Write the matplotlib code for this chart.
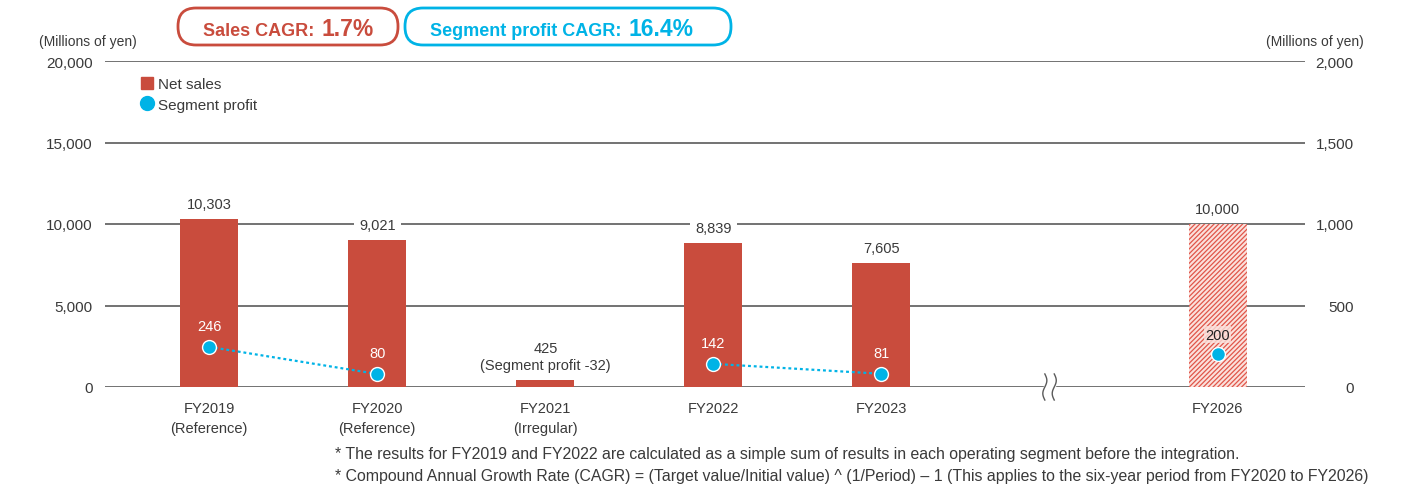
import matplotlib.pyplot as plt
import numpy as np
from matplotlib.patches import FancyBboxPatch
from matplotlib.lines import Line2D

plt.rcParams['font.family'] = ['Liberation Sans', 'DejaVu Sans']
plt.rcParams['hatch.linewidth'] = 0.9

# data
years = ['FY2019\n(Reference)', 'FY2020\n(Reference)', 'FY2021\n(Irregular)',
         'FY2022', 'FY2023', 'FY2026']
xpos = [0, 1, 2, 3, 4, 6]
net_sales = [10303, 9021, 425, 8839, 7605, 10000]
sales_labels = ['10,303', '9,021', '425\n(Segment profit -32)', '8,839', '7,605', '10,000']
profit_x = [0, 1, 3, 4, 6]
profit = [246, 80, 142, 81, 200]
sales_cagr = '1.7%'
profit_cagr = '16.4%'

RED = '#c94c3d'
CYAN = '#00b3e6'
GRID = '#5a5a5a'
TXT = '#3a3a3a'
W, H = 1402, 489

fig = plt.figure(figsize=(W/100, H/100), dpi=100)
ax = fig.add_axes([105/W, 101/H, 1200/W, 326/H])
ax2 = ax.twinx()

ax.set_xlim(-0.62, 6.52)
ax.set_ylim(0, 20000)
ax2.set_ylim(0, 2000)

for y in range(0, 20001, 5000):
    ax.axhline(y, color=GRID, lw=1.2, zorder=0)

for s in list(ax.spines.values()) + list(ax2.spines.values()):
    s.set_visible(False)

# bars
for i, (x, v) in enumerate(zip(xpos, net_sales)):
    if i == len(xpos) - 1:
        ax.bar(x, v, width=0.345, color='#fbe1dc', edgecolor='#e0564a',
               hatch='///////', lw=0, zorder=2)
    else:
        ax.bar(x, v, width=0.345, color=RED, lw=0, zorder=2)
    ax.annotate(sales_labels[i], (x, v), xytext=(0, 6), textcoords='offset points',
                ha='center', va='bottom', fontsize=10.5, color=TXT, zorder=3,
                linespacing=1.25,
                bbox=dict(boxstyle='square,pad=0.35', fc='white', ec='none'))

# segment profit on the right axis
ax2.plot(profit_x[:2], profit[:2], ls=(0, (1.3, 1.3)), color=CYAN, lw=1.6, zorder=3)
ax2.plot(profit_x[2:4], profit[2:4], ls=(0, (1.3, 1.3)), color=CYAN, lw=1.6, zorder=3)
ax2.plot(profit_x, profit, ls='none', marker='o', ms=10, mfc=CYAN, mec='white',
         mew=1.0, zorder=4)
for x, v in zip(profit_x, profit):
    if x == 6:
        ax2.annotate(str(v), (x, v), xytext=(0, 14), textcoords='offset points',
                     ha='center', va='center', fontsize=10.5, color='#222222',
                     bbox=dict(boxstyle='square,pad=0.1', fc='#fbe1dc', ec='none', alpha=0.8))
    else:
        ax2.annotate(str(v), (x, v), xytext=(0, 15), textcoords='offset points',
                     ha='center', va='center', fontsize=10.5, color='white')

# axes ticks
ax.set_xticks(xpos)
ax.set_xticklabels(years, fontsize=10.5, color=TXT, linespacing=1.55)
ax.tick_params(axis='x', length=0, pad=10)
ax.set_yticks(range(0, 20001, 5000))
ax.set_yticklabels([f'{v:,}' for v in range(0, 20001, 5000)], fontsize=11, color=TXT)
ax.tick_params(axis='y', length=0, pad=9)
ax2.set_yticks(range(0, 2001, 500))
ax2.set_yticklabels([f'{v:,}' for v in range(0, 2001, 500)], fontsize=11, color=TXT,
                    ha='right')
ax2.tick_params(axis='y', length=0, pad=35)

# axis break mark
t = np.linspace(-1, 1, 40)
ax.fill_betweenx([-300, 300], 5 - 0.03, 5 + 0.03, color='white', zorder=4, clip_on=False)
for dx in (-0.028, 0.028):
    xs = 5 + dx + 0.012 * np.sin(t * np.pi)
    ys = t * 800
    ax.plot(xs, ys, color=GRID, lw=1.0, clip_on=False, zorder=5)

fig.text(88/W, 1 - 42/H, '(Millions of yen)', fontsize=10, color=TXT,
         ha='center', va='center')
fig.text(1315/W, 1 - 42/H, '(Millions of yen)', fontsize=10, color=TXT,
         ha='center', va='center')

# legend
handles = [Line2D([], [], ls='none', marker='s', ms=8.5, mfc=RED, mec=RED),
           Line2D([], [], ls='none', marker='o', ms=10, mfc=CYAN, mec=CYAN)]
leg = ax2.legend(handles, ['Net sales', 'Segment profit'], loc='upper left',
                 bbox_to_anchor=(0.026, 0.97), frameon=False, fontsize=11,
                 handlelength=0.6, handletextpad=0.45, labelspacing=0.45,
                 borderaxespad=0)
for txt in leg.get_texts():
    txt.set_color(TXT)

# CAGR boxes
def cagr_box(x0, w, color, label, value):
    box = FancyBboxPatch((x0/100, 4.43), w/100, 0.37,
                         boxstyle='round,pad=0,rounding_size=0.18',
                         transform=fig.dpi_scale_trans, fc='white', ec=color, lw=2)
    fig.patches.append(box)
    t1 = fig.text((x0 + 25)/W, 1 - 36/H, label, fontsize=13, weight='bold',
                  color=color, va='baseline')
    fig.canvas.draw()
    bb = t1.get_window_extent()
    fig.text((bb.x1 + 7)/W, 1 - 36/H, value, fontsize=16.5, weight='bold',
             color=color, va='baseline')

cagr_box(178, 220, RED, 'Sales CAGR:', sales_cagr)
cagr_box(405, 326, CYAN, 'Segment profit CAGR:', profit_cagr)

# footnotes
notes = ['* The results for FY2019 and FY2022 are calculated as a simple sum of results in each operating segment before the integration.',
         '* Compound Annual Growth Rate (CAGR) = (Target value/Initial value) ^ (1/Period) \u2013 1 (This applies to the six-year period from FY2020 to FY2026)']
fig.text(335/W, 1 - 455/H, notes[0], fontsize=11.4, color=TXT, va='center')
fig.text(335/W, 1 - 477/H, notes[1], fontsize=11.4, color=TXT, va='center')

fig.savefig('out.png', dpi=100)
